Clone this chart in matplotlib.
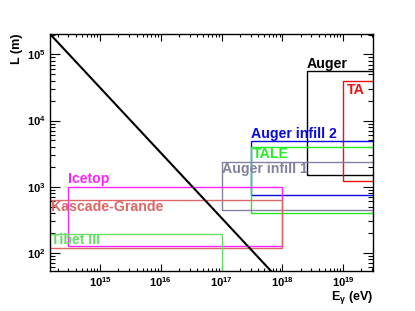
import matplotlib
matplotlib.use("Agg")
import matplotlib.pyplot as plt
from matplotlib.patches import Rectangle
from matplotlib.ticker import LogLocator, NullFormatter

plt.rcParams['font.family'] = ['Liberation Sans', 'DejaVu Sans']
plt.rcParams['font.weight'] = 'bold'
plt.rcParams['mathtext.fontset'] = 'custom'
plt.rcParams['mathtext.rm'] = 'Liberation Sans:bold'
plt.rcParams['mathtext.it'] = 'Liberation Sans:bold'
plt.rcParams['mathtext.bf'] = 'Liberation Sans:bold'
plt.rcParams['mathtext.default'] = 'rm'

# experiments: energy range (eV) and length range (m)
names = ['Auger', 'TA', 'Auger infill 2', 'TALE', 'Auger infill 1',
         'Icetop', 'Kascade-Grande', 'Tibet III']
e_min = [2.5e18, 1e19, 3e17, 3e17, 1e17, 3e14, 1e13, 1e13]
e_max = [1e21, 1e21, 1e21, 1e21, 1e21, 1e18, 1e18, 1e17]
l_min = [1500, 1200, 750, 400, 440, 125, 118, 15]
l_max = [5.6e4, 4e4, 4850, 4000, 2400, 1000, 630, 192]
colors = ['black', '#ee1111', '#0a0ae0', '#22ee22', '#8282a0',
          '#ff22ff', '#dd6666', '#66dd66']
# label anchor (left, baseline)
lab_e = [2.5e18, 1.15e19, 3e17, 3.25e17, 1e17, 3e14, 1.55e14, 1.55e14]
lab_l = [6.3e4, 2.5e4, 5400, 2750, 1630, 1125, 433, 134]

# black diagonal line
line_e = [1.5e14, 6.5e17]
line_l = [2.04e5, 53]

fig = plt.figure(figsize=(4.15, 3.11), dpi=100)
ax = fig.add_axes([50/415, 1-271/311, 323/415, 237/311])
ax.set_xscale('log')
ax.set_yscale('log')
ax.set_xlim(1.5e14, 3.1e19)
ax.set_ylim(53, 2.04e5)

for i in range(len(names)):
    r = Rectangle((e_min[i], l_min[i]), e_max[i]-e_min[i], l_max[i]-l_min[i],
                  fill=False, edgecolor=colors[i], lw=1.0, zorder=2)
    ax.add_patch(r)
    ax.text(lab_e[i], lab_l[i], names[i], color=colors[i], fontsize=10.2,
            fontweight='bold', ha='left', va='baseline', zorder=3)

ax.plot(line_e, line_l, color='black', lw=1.5, zorder=4)

ax.xaxis.set_major_locator(LogLocator(base=10, numticks=20))
ax.xaxis.set_minor_locator(LogLocator(base=10, subs=range(2, 10), numticks=20))
ax.yaxis.set_major_locator(LogLocator(base=10, numticks=20))
ax.yaxis.set_minor_locator(LogLocator(base=10, subs=range(2, 10), numticks=20))
ax.xaxis.set_minor_formatter(NullFormatter())
ax.yaxis.set_minor_formatter(NullFormatter())
ax.tick_params(axis='x', which='major', direction='in', length=5, width=0.8,
               top=True, labelsize=8, pad=3)
ax.tick_params(axis='x', which='minor', direction='in', length=2.5, width=0.8, top=True)
ax.tick_params(axis='y', which='major', direction='in', length=7, width=0.8,
               right=True, labelsize=8, pad=3)
ax.tick_params(axis='y', which='minor', direction='in', length=3.5, width=0.8, right=True)
for s in ax.spines.values():
    s.set_linewidth(1.0)

ax.set_xlabel(r'E$_\gamma$ (eV)', fontsize=9, fontweight='bold', loc='right', labelpad=0)
ax.set_ylabel('L (m)', fontsize=9, fontweight='bold', loc='top', labelpad=3)

fig.savefig('out.png', dpi=100)
